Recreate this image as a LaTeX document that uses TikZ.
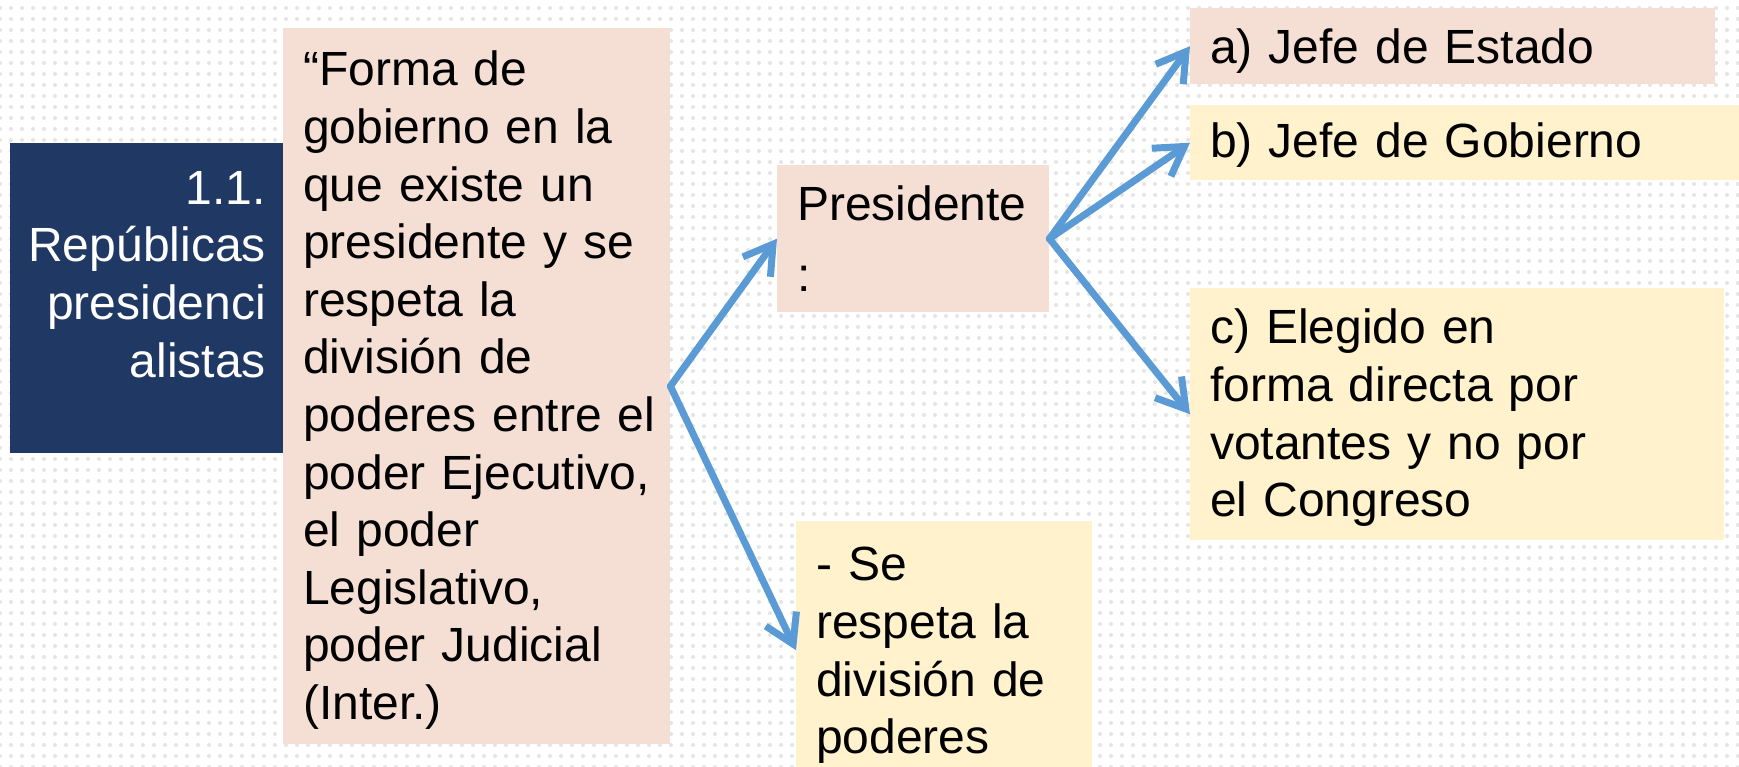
\documentclass[tikz,border=0pt]{standalone}
\usepackage{fontspec}
\setmainfont{Liberation Sans}
\usetikzlibrary{arrows.meta,patterns.meta}
\hyphenpenalty=10000
\exhyphenpenalty=10000
\hfuzz=50pt
\newcommand\mytopstrut[1]{\rule{0pt}{#1}}
\definecolor{navy}{HTML}{203864}
\definecolor{pinkfill}{HTML}{F5DFD4}
\definecolor{yellowfill}{HTML}{FFF2CC}
\definecolor{arrowblue}{HTML}{5B9BD5}
\tikzset{
  boxbase/.style={anchor=north west, inner xsep=20bp, inner ysep=0bp, align=left,
    font=\fontsize{48bp}{57.6bp}\selectfont, text=black},
  pinkbox/.style={boxbase, fill=pinkfill},
  yellowbox/.style={boxbase, fill=yellowfill},
  link/.style={draw=arrowblue, line width=7bp,
    -{Straight Barb[length=28bp, width=34bp, line width=7bp]},
    line cap=round, line join=round}
}
\begin{document}
\begin{tikzpicture}[x=1bp, y=-1bp]
\useasboundingbox (0,0) rectangle (1739,767);
\clip (0,0) rectangle (1739,767);
\fill[white] (0,0) rectangle (1739,767);
\fill[pattern={Dots[distance=11bp, radius=2bp]}, pattern color=black!10] (0,0) rectangle (1739,767);

% title box
\node[fill=navy, anchor=north west, minimum width=273bp, minimum height=310bp, inner sep=0pt] (title) at (10,143) {};
\node[anchor=north east, align=right, inner sep=0pt, text=white,
  font=\fontsize{48bp}{57.6bp}\selectfont] (titletext) at (266,171)
  {1.1.\\Repúblicas\\presidenci\\alistas};

% main definition box
\node[pinkbox, text width=347bp, minimum height=716bp] (main) at (283,28)
  {\mytopstrut{43bp}“Forma de\\gobierno en la\\que existe un\\presidente y se\\respeta la\\división de\\poderes~entre~el\\poder Ejecutivo,\\el poder\\Legislativo,\\poder Judicial\\(Inter.)};

\node[pinkbox, text width=232bp, minimum height=147bp] (pres) at (777,165)
  {Presidente\\[13bp]:};

\node[yellowbox, text width=256bp, minimum height=258bp] (se) at (796,521)
  {\mytopstrut{44bp}- Se\\respeta la\\división de\\poderes};

\node[pinkbox, text width=485bp, minimum height=76bp] (a) at (1190,8)
  {\mytopstrut{44bp}a) Jefe de Estado};

\node[yellowbox, text width=520bp, minimum height=75bp] (b) at (1190,105)
  {\mytopstrut{40bp}b) Jefe de Gobierno};

\node[yellowbox, text width=494bp, minimum height=252bp] (c) at (1190,288)
  {\mytopstrut{42bp}c) Elegido en\\forma directa por\\votantes y no por\\el Congreso};

\draw[link] (main.east) -- (pres.west);
\draw[link] (main.east) -- (se.west);
\draw[link] (pres.east) -- (a.west);
\draw[link] (pres.east) -- (b.west);
\draw[link] (pres.east) -- (c.west);
\end{tikzpicture}
\end{document}
